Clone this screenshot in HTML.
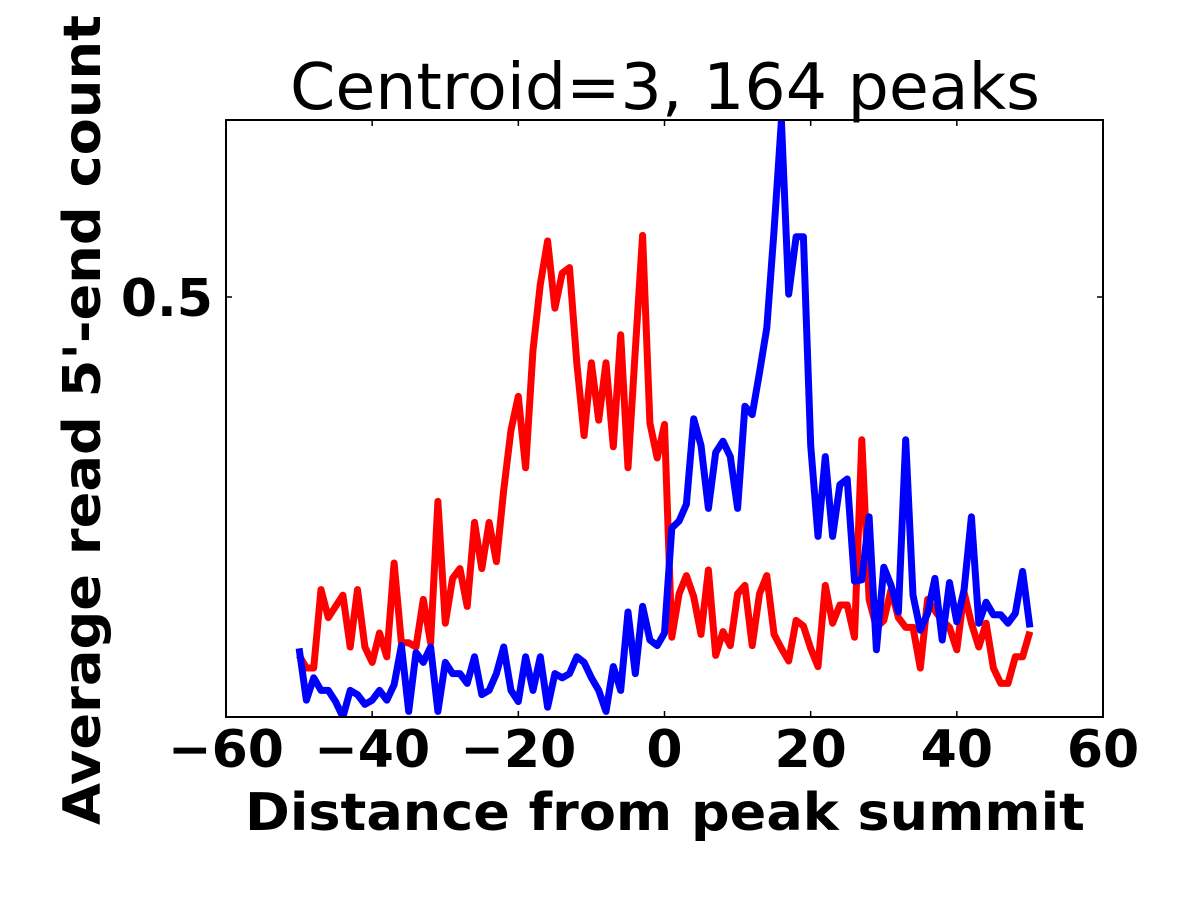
<!DOCTYPE html>
<html><head><meta charset="utf-8"><style>
html,body{margin:0;padding:0;background:#fff;}
svg{display:block;font-family:"DejaVu Sans","Liberation Sans",sans-serif;}
</style></head><body>
<svg id="chart" width="1200" height="900" viewBox="0 0 1200 900">
<defs><clipPath id="plotclip"><rect x="226" y="120" width="877" height="597"/></clipPath></defs>
<rect width="1200" height="900" fill="#fff"/>
<text x="665" y="109" font-size="64" text-anchor="middle" textLength="750" lengthAdjust="spacingAndGlyphs">Centroid=3, 164 peaks</text>
<g id="series" clip-path="url(#plotclip)"></g>
<rect x="226" y="120" width="877" height="597" fill="none" stroke="#000" stroke-width="2"/>
<g id="ticks"></g>
<text x="665" y="830" font-size="52" font-weight="bold" text-anchor="middle" textLength="840" lengthAdjust="spacingAndGlyphs">Distance from peak summit</text>
<text transform="translate(100,420) rotate(-90)" font-size="52" font-weight="bold" text-anchor="middle" textLength="810" lengthAdjust="spacingAndGlyphs">Average read 5'-end count</text>
</svg>
<script>
const positions = Array.from({length:101},(_,i)=>i-50);
const redValues = [0.244,0.235,0.235,0.291,0.271,0.279,0.287,0.250,0.291,0.250,
0.239,0.260,0.243,0.310,0.253,0.253,0.250,0.284,0.253,0.354,
0.267,0.299,0.306,0.279,0.339,0.306,0.339,0.311,0.362,0.405,
0.429,0.378,0.462,0.509,0.540,0.492,0.517,0.521,0.453,0.401,
0.453,0.412,0.453,0.393,0.473,0.378,0.462,0.544,0.410,0.385,
0.409,
0.257,0.288,0.301,0.286,0.259,0.305,0.244,0.261,0.251,0.288,
0.294,0.251,0.288,0.301,0.259,0.249,0.240,0.269,0.265,0.249,
0.236,0.294,0.267,0.280,0.280,0.257,0.398,0.284,0.264,0.269,
0.291,0.271,0.264,0.264,0.235,0.284,0.276,0.269,0.264,0.248,
0.289,0.267,0.250,0.267,0.235,0.224,0.224,0.243,0.243,0.261];
const blueValues = [0.249,0.212,0.228,0.219,0.219,0.211,0.200,0.219,0.216,0.209,
0.212,0.219,0.212,0.223,0.251,0.204,0.246,0.239,0.250,0.204,
0.239,0.231,0.231,0.224,0.243,0.216,0.219,0.231,0.250,0.219,
0.211,0.243,0.219,0.243,0.207,0.231,0.228,0.231,0.243,0.239,
0.228,0.219,0.204,0.236,0.219,0.275,0.231,0.279,0.255,0.251,
0.260,
0.335,0.340,0.352,0.413,0.394,0.349,0.389,0.397,0.386,0.349,
0.422,0.416,0.446,0.478,0.548,0.626,0.502,0.543,0.543,0.394,
0.329,0.386,0.329,0.366,0.370,0.297,0.298,0.343,0.248,0.307,
0.294,0.275,0.398,0.287,0.262,0.274,0.299,0.255,0.296,0.268,
0.291,0.343,0.267,0.282,0.273,0.273,0.267,0.274,0.304,0.264];
const xTicks = [-60,-40,-20,0,20,40,60];
const xTickLabels = ["\u221260","\u221240","\u221220","0","20","40","60"];
const yTicks = [0.5];
const yTickLabels = ["0.5"];

const NS="http://www.w3.org/2000/svg";
const X0=226,X1=1103,Y0=717,Y1=120;
const xMin=-60,xMax=60,yMin=0.2,yMax=0.62643;
function sx(v){return X0+(v-xMin)/(xMax-xMin)*(X1-X0);}
function sy(v){return Y0-(v-yMin)/(yMax-yMin)*(Y0-Y1);}

const g=document.getElementById('series');
function drawLine(vals,color,name){
  const p=document.createElementNS(NS,'polyline');
  p.setAttribute('points',vals.map((v,i)=>sx(positions[i]).toFixed(1)+','+sy(v).toFixed(1)).join(' '));
  p.setAttribute('fill','none');p.setAttribute('stroke',color);
  p.setAttribute('stroke-width','7');p.setAttribute('stroke-linejoin','round');
  
  
  g.appendChild(p);
}
drawLine(redValues,'#ff0000','red-series-line');
drawLine(blueValues,'#0000ff','blue-series-line');

const t=document.getElementById('ticks');
xTicks.forEach((v,i)=>{
  const x=sx(v);
  [[Y0,Y0-6],[Y1,Y1+6]].forEach(([a,b])=>{
    const l=document.createElementNS(NS,'line');
    l.setAttribute('x1',x);l.setAttribute('x2',x);l.setAttribute('y1',a);l.setAttribute('y2',b);
    l.setAttribute('stroke','#000');l.setAttribute('stroke-width','1.5');
    
    
    t.appendChild(l);
  });
  const tx=document.createElementNS(NS,'text');
  tx.setAttribute('x',x);tx.setAttribute('y',767);
  tx.setAttribute('font-size','52');tx.setAttribute('font-weight','bold');tx.setAttribute('text-anchor','middle');
  tx.textContent=xTickLabels[i];
  
  
  t.appendChild(tx);
});
yTicks.forEach((v,i)=>{
  const y=sy(v);
  [[X0,X0+6],[X1,X1-6]].forEach(([a,b])=>{
    const l=document.createElementNS(NS,'line');
    l.setAttribute('x1',a);l.setAttribute('x2',b);l.setAttribute('y1',y);l.setAttribute('y2',y);
    l.setAttribute('stroke','#000');l.setAttribute('stroke-width','1.5');
    
    
    t.appendChild(l);
  });
  const tx=document.createElementNS(NS,'text');
  tx.setAttribute('x',213);tx.setAttribute('y',y+19);
  tx.setAttribute('font-size','52');tx.setAttribute('font-weight','bold');tx.setAttribute('text-anchor','end');
  tx.textContent=yTickLabels[i];
  
  
  t.appendChild(tx);
});
</script>
</body></html>
